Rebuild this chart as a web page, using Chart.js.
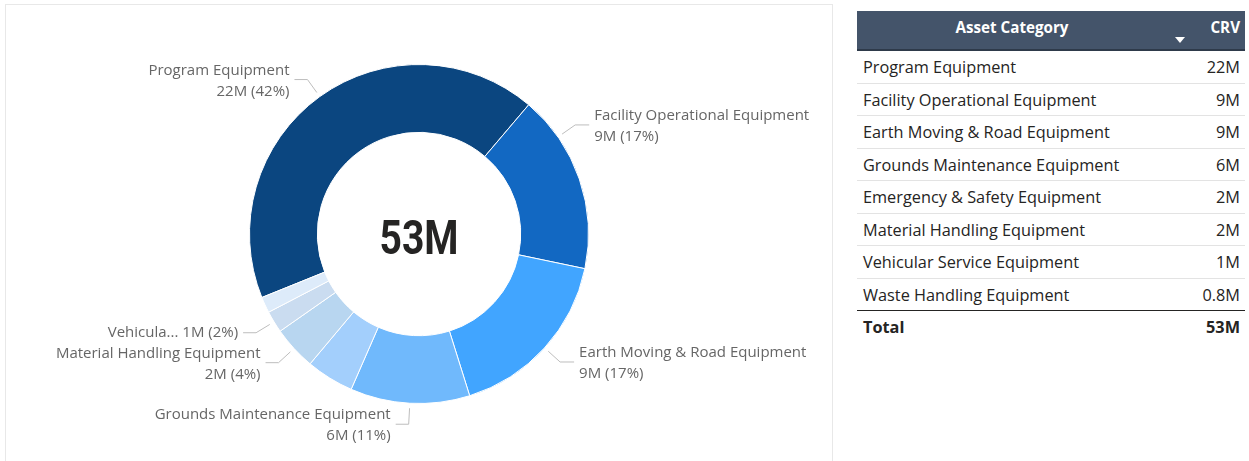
<!DOCTYPE html>
<html>
<head>
<meta charset="utf-8">
<script src="https://cdn.jsdelivr.net/npm/chart.js@4.4.1/dist/chart.umd.min.js"></script>
<style>
  html, body { margin:0; padding:0; background:#ffffff; width:1249px; height:461px; overflow:hidden; }
  body { font-family: "Open Sans", "Noto Sans", sans-serif; }
  #card { position:absolute; left:5px; top:4px; width:828px; height:480px; border:1px solid #E8E8E8; box-sizing:border-box; }
  #chartWrap { position:absolute; left:0; top:0; width:833px; height:461px; }
  #tbl { position:absolute; left:857px; top:11px; width:388px; color:#252423; }
  .hdr { position:relative; height:38px; background:#44546A; border-bottom:2px solid #2E3A4A; color:#fff; font-weight:700; font-size:15.2px; }
  .hdr .cat { position:absolute; left:0; width:310px; top:0; line-height:33px; text-align:center; }
  .hdr .val { position:absolute; right:5px; top:0; line-height:33px; text-align:right; }
  .hdr .sort { position:absolute; left:318px; top:26px; width:0; height:0; border-left:5px solid transparent; border-right:5px solid transparent; border-top:6px solid #fff; }
  .row { position:relative; height:32.5px; box-sizing:border-box; border-bottom:1px solid #E3E3E3; font-size:16.3px; line-height:32px; white-space:nowrap; }
  .row .cat { position:absolute; left:6px; top:0; }
  .row .val { position:absolute; right:5px; top:0; }
  .row.total { border-top:1.5px solid #252423; border-bottom:none; font-weight:700; height:34px; margin-top:-1px; }
</style>
</head>
<body>
<div id="card"></div>
<div id="chartWrap"><canvas id="c" width="833" height="461"></canvas></div>
<div id="tbl"></div>
<script>
// ---- data ----
const categories = [
  "Program Equipment",
  "Facility Operational Equipment",
  "Earth Moving & Road Equipment",
  "Grounds Maintenance Equipment",
  "Emergency & Safety Equipment",
  "Material Handling Equipment",
  "Vehicular Service Equipment",
  "Waste Handling Equipment"
];
const crvValues = [22.3, 9.0, 8.9, 6.0, 2.4, 2.2, 1.1, 0.8]; // millions
const tableHeaders = ["Asset Category", "CRV"];
const totalLabel = "Total";

// ---- styles ----
const sliceColors = ["#0B4680", "#1268C2", "#41A5FF", "#70B9FC", "#A3CFFC", "#B8D6F0", "#CADCF0", "#DDEBFA"];
const labelLayout = {
  "Program Equipment": {},
  "Facility Operational Equipment": { angleShift: -16 },
  "Earth Moving & Road Equipment": {},
  "Grounds Maintenance Equipment": {},
  "Material Handling Equipment": {},
  "Vehicular Service Equipment": { inline: true, truncate: 8 }
};

function fmtM(v) { return (v >= 1 ? Math.round(v) : v.toFixed(1)) + "M"; }
function esc(s) { return s.replace(/&/g, "&amp;"); }
const total = crvValues.reduce((a, b) => a + b, 0);

// ---- table ----
(function buildTable() {
  const t = document.getElementById("tbl");
  let h = '<div class="hdr"><span class="cat">' + tableHeaders[0] + '</span><span class="sort"></span><span class="val">' + tableHeaders[1] + '</span></div>';
  categories.forEach((c, i) => {
    h += '<div class="row"><span class="cat">' + esc(c) + '</span><span class="val">' + fmtM(crvValues[i]) + '</span></div>';
  });
  h += '<div class="row total"><span class="cat">' + totalLabel + '</span><span class="val">' + fmtM(total) + '</span></div>';
  t.innerHTML = h;
})();

// ---- plugins ----
const labelFont = '15px "Open Sans", "Noto Sans", sans-serif';
const outsideLabels = {
  id: "outsideLabels",
  afterDatasetsDraw(chart) {
    const ctx = chart.ctx;
    const meta = chart.getDatasetMeta(0);
    ctx.save();
    ctx.font = labelFont;
    ctx.textBaseline = "middle";
    meta.data.forEach((arc, i) => {
      const name = categories[i];
      const lay = labelLayout[name];
      if (!lay) return;
      const p = arc.getProps(["x", "y", "startAngle", "endAngle", "outerRadius"], true);
      const ang = (p.startAngle + p.endAngle) / 2 + (lay.angleShift || 0) * Math.PI / 180;
      const r0 = p.outerRadius + 5, r1 = p.outerRadius + 21;
      const ax = p.x + Math.cos(ang) * r0, ay = p.y + Math.sin(ang) * r0;
      const ex = p.x + Math.cos(ang) * r1, ey = p.y + Math.sin(ang) * r1;
      const right = Math.cos(ang) >= 0;
      const hx = ex + (right ? 14 : -13);
      ctx.strokeStyle = "#BDBDBD";
      ctx.lineWidth = 1;
      ctx.beginPath();
      ctx.moveTo(ax, ay); ctx.lineTo(ex, ey); ctx.lineTo(hx, ey);
      ctx.stroke();
      const tx = hx + (right ? 5 : -5);
      ctx.textAlign = right ? "left" : "right";
      ctx.fillStyle = "#666666";
      const pct = Math.round(crvValues[i] / total * 100) + "%";
      const valTxt = fmtM(crvValues[i]) + " (" + pct + ")";
      if (lay.inline) {
        const nm = lay.truncate ? name.slice(0, lay.truncate) + "..." : name;
        ctx.fillText(nm + " " + valTxt, tx, ey);
      } else {
        ctx.fillText(name, tx, ey - 9);
        ctx.fillText(valTxt, tx, ey + 12);
      }
    });
    ctx.restore();
  }
};
const centerText = {
  id: "centerText",
  afterDraw(chart) {
    const ctx = chart.ctx;
    const a = chart.getDatasetMeta(0).data[0];
    const txt = fmtM(total);
    ctx.save();
    ctx.font = 'bold 49px Roboto, "DejaVu Sans", sans-serif';
    const w = ctx.measureText(txt).width;
    const sx = 79 / w;
    ctx.translate(a.x, a.y + 20);
    ctx.scale(sx, 1);
    ctx.fillStyle = "#252423";
    ctx.textAlign = "center";
    ctx.textBaseline = "alphabetic";
    ctx.fillText(txt, 0, 0);
    ctx.restore();
  }
};

new Chart(document.getElementById("c"), {
  type: "doughnut",
  data: {
    labels: categories,
    datasets: [{
      data: crvValues,
      backgroundColor: sliceColors,
      borderColor: "#ffffff",
      borderWidth: 1,
      hoverOffset: 0
    }]
  },
  options: {
    responsive: false,
    devicePixelRatio: 1,
    animation: false,
    rotation: 248,
    cutout: "60%",
    layout: { padding: { left: 249, right: 244, top: 64, bottom: 57 } },
    plugins: { legend: { display: false }, tooltip: { enabled: false } }
  },
  plugins: [outsideLabels, centerText]
});
</script>
</body>
</html>
